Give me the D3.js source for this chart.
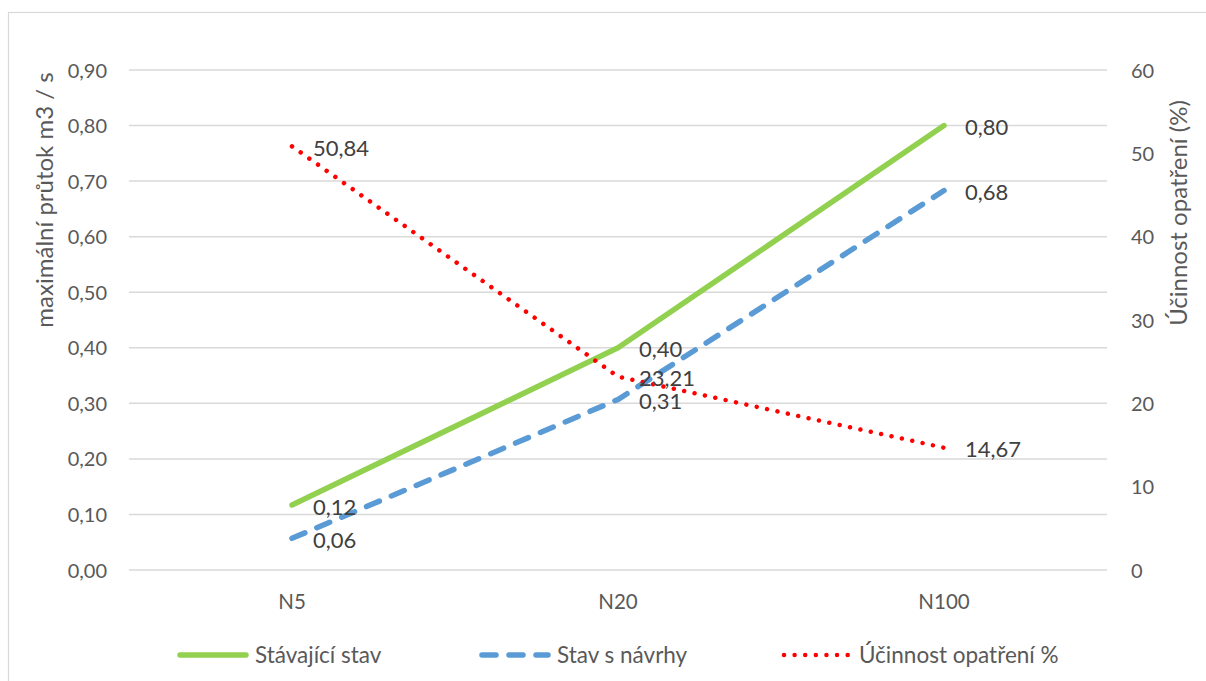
<!DOCTYPE html>
<html><head><meta charset="utf-8">
<script src="https://cdn.jsdelivr.net/npm/d3@7"></script>
<style>body{margin:0;background:#fff} text{font-family:Lato, "Liberation Sans", sans-serif}</style>
</head><body><svg id="c" width="1206" height="681"></svg>
<script>
const categories = ["N5", "N20", "N100"];
const stavajiciStav = [0.117, 0.40, 0.80];
const stavSNavrhy = [0.057, 0.307, 0.683];
const ucinnost = [50.84, 23.21, 14.67];
const leftTicks = [0, 0.1, 0.2, 0.3, 0.4, 0.5, 0.6, 0.7, 0.8, 0.9];
const rightTicks = [0, 10, 20, 30, 40, 50, 60];
const seriesNames = ["Stávající stav", "Stav s návrhy", "Účinnost opatření %"];
const leftTitle = "maximální průtok m3 / s";
const rightTitle = "Účinnost opatření (%)";

const svg = d3.select("#c");
const m = {left: 129, right: 1107, top: 70, bottom: 570};
const x = d3.scaleBand().domain(categories).range([m.left, m.right]);
const yL = d3.scaleLinear().domain([0, 0.9]).range([m.bottom, m.top]);
const yR = d3.scaleLinear().domain([0, 60]).range([m.bottom, m.top]);
const cx = d => x(d) + x.bandwidth() / 2;
const fmt2 = v => d3.format(".2f")(v).replace(".", ",");

svg.append("rect").attr("x", 8.5).attr("y", 12.5).attr("width", 1300).attr("height", 700)
  .attr("fill", "none").attr("stroke", "#d9d9d9").attr("stroke-width", 1.2);

// gridlines
svg.append("g").selectAll("line").data(leftTicks).join("line")
  .attr("x1", m.left).attr("x2", m.right)
  .attr("y1", d => yL(d)).attr("y2", d => yL(d))
  .attr("stroke", "#d9d9d9").attr("stroke-width", 1.5);

// left axis
const gl = svg.append("g").attr("transform", `translate(107,0)`)
  .call(d3.axisLeft(yL).tickValues(leftTicks).tickSize(0).tickPadding(0).tickFormat(fmt2));
gl.select(".domain").remove();
gl.selectAll("text").attr("fill", "#595959").style("font-size", "20px").attr("dy", "0.35em");

// right axis
const gr = svg.append("g").attr("transform", `translate(1131,0)`)
  .call(d3.axisRight(yR).tickValues(rightTicks).tickSize(0).tickPadding(0).tickFormat(d3.format("d")));
gr.select(".domain").remove();
gr.selectAll("text").attr("fill", "#595959").style("font-size", "20px").attr("dy", "0.35em");

// x axis
const gx = svg.append("g").attr("transform", `translate(0,${m.bottom + 32})`)
  .call(d3.axisBottom(x).tickSize(0).tickPadding(0));
gx.select(".domain").remove();
gx.selectAll("text").attr("fill", "#595959").style("font-size", "20.5px").attr("dy", "0.35em");

// axis titles
svg.append("text").attr("transform", "translate(53,200) rotate(-90)")
  .attr("text-anchor", "middle").attr("fill", "#595959").style("font-size", "24px").text(leftTitle);
svg.append("text").attr("transform", "translate(1187,213) rotate(-90)")
  .attr("text-anchor", "middle").attr("fill", "#595959").style("font-size", "24px").text(rightTitle);

const lineL = d3.line().x((d, i) => cx(categories[i])).y(d => yL(d));
const lineR = d3.line().x((d, i) => cx(categories[i])).y(d => yR(d));

svg.append("path").attr("d", lineL(stavajiciStav)).attr("fill", "none")
  .attr("stroke", "#92d050").attr("stroke-width", 5.5).attr("stroke-linecap", "round").attr("stroke-linejoin", "round");
svg.append("path").attr("d", lineL(stavSNavrhy)).attr("fill", "none")
  .attr("stroke", "#5b9bd5").attr("stroke-width", 5.5).attr("stroke-linecap", "round")
  .attr("stroke-dasharray", "14 13");
svg.append("path").attr("d", lineR(ucinnost)).attr("fill", "none")
  .attr("stroke", "#ff0000").attr("stroke-width", 4.5).attr("stroke-linecap", "round")
  .attr("stroke-dasharray", "0.01 10.6");

// data labels
const lbl = (vals, yS, f) => svg.append("g").selectAll("text").data(vals).join("text")
  .attr("x", (d, i) => cx(categories[i]) + 21).attr("y", d => yS(d) + 2)
  .attr("dy", "0.35em").attr("fill", "#404040").style("font-size", "22px")
  .text(f);
lbl(stavajiciStav, yL, fmt2);
lbl(stavSNavrhy, yL, fmt2);
lbl(ucinnost, yR, fmt2);

// legend
const ly = 655;
const leg = [
  {x: 178, name: seriesNames[0], stroke: "#92d050", w: 5.5, dash: null},
  {x: 480, name: seriesNames[1], stroke: "#5b9bd5", w: 5.5, dash: "14 13"},
  {x: 782, name: seriesNames[2], stroke: "#ff0000", w: 4.5, dash: "0.01 10.6"}
];
const lg = svg.append("g").selectAll("g").data(leg).join("g");
lg.append("line").attr("x1", d => d.x + 2).attr("x2", d => d.x + 68).attr("y1", ly).attr("y2", ly)
  .attr("stroke", d => d.stroke).attr("stroke-width", d => d.w).attr("stroke-linecap", "round")
  .attr("stroke-dasharray", d => d.dash);
lg.append("text").attr("x", d => d.x + 77).attr("y", ly).attr("dy", "0.35em")
  .attr("fill", "#595959").style("font-size", "22.5px").text(d => d.name);
</script></body></html>
